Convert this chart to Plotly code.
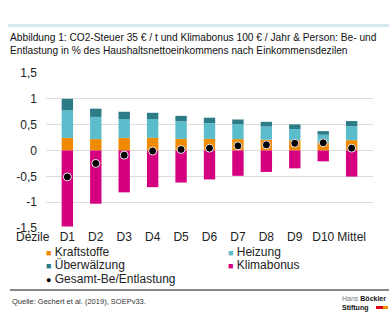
import plotly.graph_objects as go

categories = ["D1", "D2", "D3", "D4", "D5", "D6", "D7", "D8", "D9", "D10", "Mittel"]
kraftstoffe = [0.245, 0.22, 0.245, 0.245, 0.225, 0.225, 0.22, 0.21, 0.20, 0.15, 0.20]
heizung = [0.535, 0.43, 0.365, 0.365, 0.34, 0.305, 0.29, 0.255, 0.215, 0.155, 0.27]
ueberwaelzung = [0.22, 0.16, 0.14, 0.12, 0.105, 0.105, 0.09, 0.09, 0.09, 0.07, 0.10]
klimabonus = [-1.47, -1.03, -0.81, -0.71, -0.62, -0.56, -0.49, -0.415, -0.345, -0.21, -0.505]
gesamt = [-0.51, -0.25, -0.09, -0.01, 0.02, 0.045, 0.09, 0.11, 0.14, 0.15, 0.045]
y_ticks = [-1.5, -1.0, -0.5, 0.0, 0.5, 1.0, 1.5]
y_ticktext = ["-1,5", "-1", "-0,5", "0", "0,5", "1", "1,5"]

names = ["Kraftstoffe", "Heizung", "Überwälzung", "Klimabonus", "Gesamt-Be/Entlastung"]
colors = ["#f08a00", "#5bbccb", "#2b7c87", "#d5007f", "#000000"]

FONT = "Liberation Sans, Arial, sans-serif"

fig = go.Figure()
for vals, name, col in zip([kraftstoffe, heizung, ueberwaelzung, klimabonus], names[:4], colors[:4]):
    fig.add_trace(go.Bar(x=categories, y=vals, name=name, marker=dict(color=col, line=dict(width=0)),
                         showlegend=False))
fig.add_trace(go.Scatter(x=categories, y=gesamt, name=names[4], mode="markers",
                         marker=dict(color="#000000", size=8, line=dict(color="#f4e8ee", width=1)),
                         showlegend=False))

fig.update_layout(
    width=389, height=326,
    margin=dict(l=46, r=16, t=73, b=98),
    paper_bgcolor="white", plot_bgcolor="white",
    barmode="relative", bargap=0.6,
    font=dict(family=FONT, size=12, color="#222222"),
    xaxis=dict(showgrid=False, showline=False, ticks="", tickfont=dict(size=12, color="#222222")),
    yaxis=dict(range=[-1.5, 1.5], tickvals=y_ticks, ticktext=y_ticktext, showgrid=True,
               gridcolor="#dcdcdc", gridwidth=1, zeroline=True, zerolinecolor="#dcdcdc",
               zerolinewidth=1, showline=False, ticks="", ticklabelstandoff=8,
               tickfont=dict(size=12, color="#222222")),
)


def ypx(py):
    return (326 - 98 - py) / 155


def xpx(px):
    return (px - 46) / (389 - 46 - 16)


# title band and title
fig.add_shape(type="rect", xref="paper", yref="paper", x0=xpx(8), x1=xpx(389),
              y0=ypx(27), y1=ypx(24),
              fillcolor="#d6e7ee", line=dict(width=0), layer="below")

fig.add_annotation(xref="paper", yref="paper", x=xpx(8), y=ypx(30), xanchor="left", yanchor="top",
                   align="left", showarrow=False,
                   text="Abbildung 1: CO2-Steuer 35 € / t und Klimabonus 100 € / Jahr & Person: Be- und<br>"
                        "Entlastung in % des Haushaltsnettoeinkommens nach Einkommensdezilen",
                   font=dict(family=FONT, size=10.2, color="#111111"))

fig.add_annotation(xref="paper", yref="paper", x=xpx(14), y=ypx(237), xanchor="left", yanchor="middle",
                   showarrow=False, text="Dezile", font=dict(size=12, color="#222222"))

# legend
legend_pos = [(44, 252), (226, 252), (44, 265), (226, 265), (44, 279)]
for (lx, ly), name, col in zip(legend_pos, names, colors):
    sym = "●" if name.startswith("Gesamt") else "■"
    fig.add_annotation(xref="paper", yref="paper", x=xpx(lx), y=ypx(ly), xanchor="left", yanchor="middle",
                       showarrow=False,
                       text=f"<span style='color:{col};font-size:9px'>{sym}</span> {name}",
                       font=dict(size=12, color="#222222"))

# rule and footer
fig.add_shape(type="line", xref="paper", yref="paper", x0=xpx(10), x1=xpx(389), y0=ypx(290), y1=ypx(290),
              line=dict(color="#111111", width=1.2))
fig.add_annotation(xref="paper", yref="paper", x=xpx(10), y=ypx(301), xanchor="left", yanchor="middle",
                   showarrow=False, text="Quelle: Gechert et al. (2019), SOEPv33.",
                   font=dict(size=7.5, color="#333333"))
fig.add_annotation(xref="paper", yref="paper", x=xpx(388), y=ypx(303), xanchor="right", yanchor="middle",
                   showarrow=False, align="left",
                   text="<span style='color:#777'>Hans</span> <b>Böckler</b><br><b>Stiftung</b>         ",
                   font=dict(size=7, color="#111111"))
fig.add_shape(type="rect", xref="paper", yref="paper", x0=xpx(376), x1=xpx(383), y0=ypx(309), y1=ypx(306),
              fillcolor="#e2001a", line=dict(width=0))
fig.add_shape(type="rect", xref="paper", yref="paper", x0=xpx(383), x1=xpx(388), y0=ypx(309), y1=ypx(306),
              fillcolor="#f39200", line=dict(width=0))

fig.write_html("out.html")
